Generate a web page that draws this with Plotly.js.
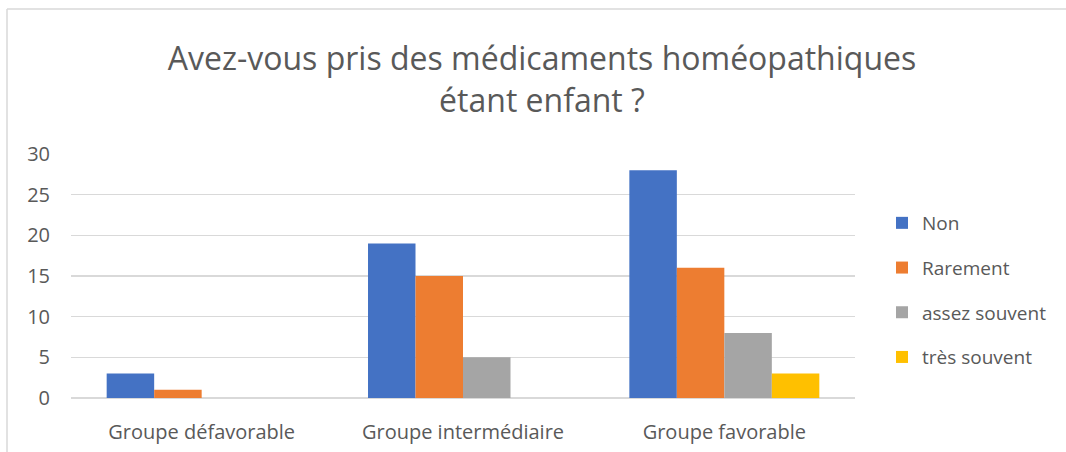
<!DOCTYPE html>
<html><head><meta charset="utf-8">
<script src="https://cdn.plot.ly/plotly-3.0.1.min.js"></script>
<style>html,body{margin:0;padding:0;background:#fff}#chart{width:1066px;height:452px}</style>
</head><body><div id="chart"></div>
<script>
const categories = ["Groupe défavorable", "Groupe intermédiaire", "Groupe favorable"];
const seriesNames = ["Non", "Rarement", "assez souvent", "très souvent"];
const nonValues = [3, 19, 28];
const rarementValues = [1, 15, 16];
const assezSouventValues = [0, 5, 8];
const tresSouventValues = [0, 0, 3];
const yTicks = [0, 5, 10, 15, 20, 25, 30];
const colors = ["#4472C4", "#ED7D31", "#A5A5A5", "#FFC000"];
const allValues = [nonValues, rarementValues, assezSouventValues, tresSouventValues];

const FONT = "Open Sans, Noto Sans, sans-serif";
const traces = allValues.map((vals, i) => ({
  type: "bar", x: categories, y: vals, name: seriesNames[i],
  legendgroup: "g" + i,
  marker: {color: colors[i], line: {width: 0}},
  hoverinfo: "skip"
}));

const W = 1066, H = 452, L = 71, R = 211, T = 154, B = 54;
const pw = W - L - R, ph = H - T - B;
const px = v => (v - L) / pw, py = v => (H - B - v) / ph;

const layout = {
  width: W, height: H,
  margin: {l: L, r: R, t: T, b: B},
  paper_bgcolor: "#fff", plot_bgcolor: "#fff",
  font: {family: FONT, color: "#595959", size: 20},
  title: {
    text: "Avez-vous pris des médicaments homéopathiques<br>étant enfant ?",
    font: {family: FONT, size: 32, color: "#595959"},
    x: 542 / W, xref: "container", xanchor: "center",
    y: 1 - 70 / H, yref: "container", yanchor: "top"
  },
  barmode: "group", bargap: 0.273, bargroupgap: 0,
  xaxis: {
    type: "category", showgrid: false, zeroline: false, showline: false,
    ticks: "", ticklabelstandoff: 20, tickfont: {size: 20, color: "#595959"}
  },
  yaxis: {
    range: [0, 30], tickvals: yTicks, ticktext: yTicks.map(String),
    showgrid: true, gridcolor: "#D9D9D9", gridwidth: 1.3,
    zeroline: true, zerolinecolor: "#D9D9D9", zerolinewidth: 1.3,
    showline: false, ticks: "", ticklabelstandoff: 20,
    tickfont: {size: 20, color: "#595959"}
  },
  showlegend: true,
  legend: {
    x: px(882), y: py(204), xanchor: "left", yanchor: "top",
    traceorder: "grouped", tracegroupgap: 17,
    font: {size: 19, color: "#595959"}, bgcolor: "rgba(0,0,0,0)"
  },
  shapes: [
    {type: "line", xref: "paper", yref: "paper", x0: px(7), x1: px(1080), y0: py(9), y1: py(9), line: {color: "#D9D9D9", width: 1.5}},
    {type: "line", xref: "paper", yref: "paper", x0: px(7), x1: px(7), y0: py(9), y1: py(470), line: {color: "#D9D9D9", width: 1.5}}
  ]
};
Plotly.newPlot("chart", traces, layout, {displayModeBar: false, staticPlot: true});
</script></body></html>
